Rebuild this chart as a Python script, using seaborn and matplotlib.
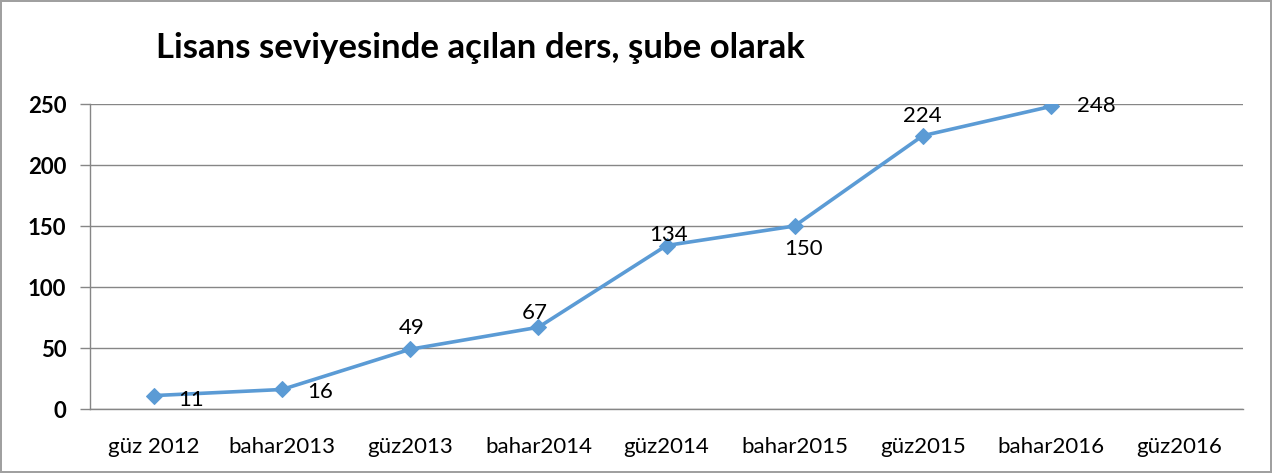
import numpy as np
import pandas as pd
import seaborn as sns
import matplotlib.pyplot as plt

# semesters on the x axis
semesters = ["güz 2012", "bahar2013", "güz2013", "bahar2014", "güz2014",
             "bahar2015", "güz2015", "bahar2016", "güz2016"]
sections = [11, 16, 49, 67, 134, 150, 224, 248, np.nan]
# where each data label sits relative to its point (pixels: dx, dy)
label_offsets = [(37, -4), (38, -3), (1, 21), (-4, 14), (2, 11),
                 (9, -23), (0, 20), (46, 0), (0, 0)]

sns.set_style("white")
plt.rcParams["font.family"] = ["Lato", "DejaVu Sans"]
plt.rcParams["text.color"] = "black"
plt.rcParams["xtick.labelcolor"] = "black"
plt.rcParams["ytick.labelcolor"] = "black"

df = pd.DataFrame({"pos": np.arange(len(semesters)), "sections": sections})

fig = plt.figure(figsize=(12.72, 4.73), dpi=100)
fig.patch.set_edgecolor("#a0a0a0")
fig.patch.set_linewidth(1.5)
ax = fig.add_axes([90 / 1272, 1 - 409 / 473, (1243 - 90) / 1272, (409 - 104) / 473])

sns.lineplot(data=df.dropna(), x="pos", y="sections", ax=ax, color="#5b9bd5",
             linewidth=2.6, marker="D", markersize=8.5, markeredgecolor="#5b9bd5")

for i, v in enumerate(sections):
    if np.isnan(v):
        continue
    dx, dy = label_offsets[i]
    ax.annotate(str(int(v)), (i, v), xytext=(dx * 0.72, dy * 0.72),
                textcoords="offset points", ha="center", va="center",
                fontsize=16, color="black")

ax.set_xlim(-0.5, len(semesters) - 0.5)
ax.set_ylim(0, 250)
ax.set_yticks(range(0, 251, 50))
ax.set_yticklabels([str(t) for t in range(0, 251, 50)], fontweight="bold", fontsize=16)
ax.set_xticks(np.arange(len(semesters)))
ax.set_xticklabels(semesters, fontsize=16)
ax.set_xticks(np.arange(len(semesters) + 1) - 0.5, minor=True)
ax.tick_params(axis="x", which="major", length=0, pad=20)
ax.tick_params(axis="x", which="minor", length=7, color="#868686", width=1)
ax.tick_params(axis="y", length=7, color="#868686", width=1, left=True, pad=10)
ax.set_xlabel("")
ax.set_ylabel("")
ax.grid(axis="y", color="#868686", linewidth=1)
ax.set_axisbelow(True)
for side in ["top", "right"]:
    ax.spines[side].set_visible(False)
for side in ["left", "bottom"]:
    ax.spines[side].set_color("#868686")
    ax.spines[side].set_linewidth(1)

fig.text(480 / 1272, 1 - 48 / 473, "Lisans seviyesinde açılan ders, şube olarak",
         ha="center", va="center", fontsize=25, fontweight="bold", color="black")

fig.savefig("out.png", dpi=100, edgecolor=fig.get_edgecolor())
